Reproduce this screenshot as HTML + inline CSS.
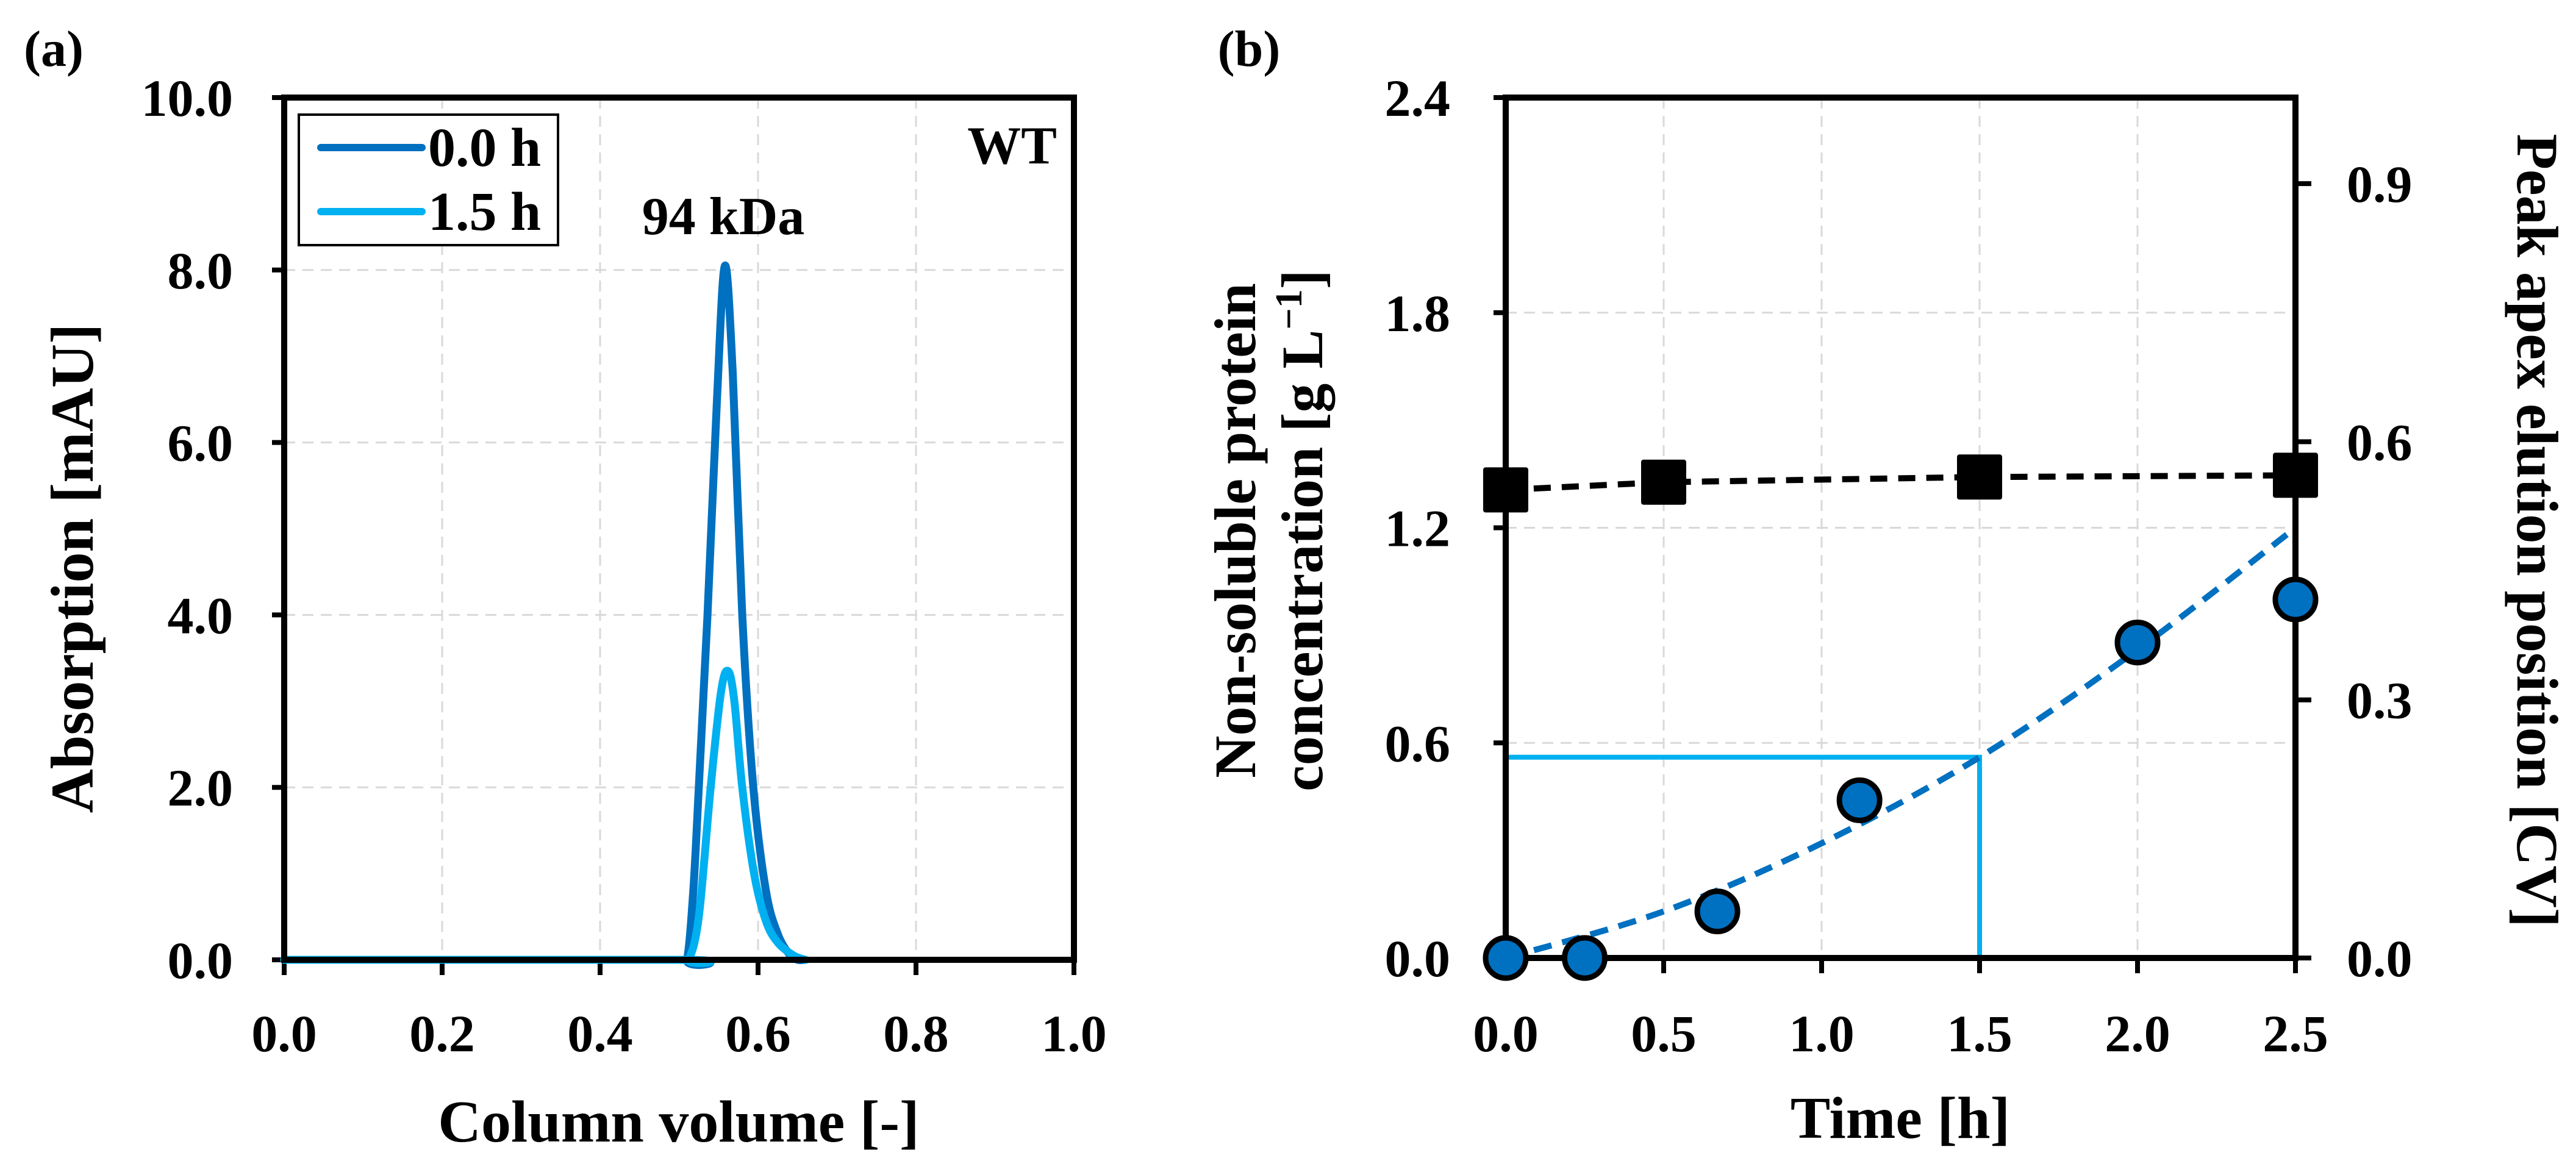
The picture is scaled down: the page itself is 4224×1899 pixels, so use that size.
<!DOCTYPE html>
<html><head><meta charset="utf-8"><style>
html,body{margin:0;padding:0;background:#fff}
svg{display:block}
text{font-family:"Liberation Serif",serif;font-weight:bold;fill:#000}
</style></head><body>
<svg id="s" width="4224" height="1899" viewBox="0 0 4224 1899" xmlns="http://www.w3.org/2000/svg">
<text x="88" y="108" font-size="84" text-anchor="middle">(a)</text>
<text x="2048" y="108" font-size="84" text-anchor="middle">(b)</text>
<g id="ga"></g>
<g id="gb"></g>
</svg>
<script>
// ---- Panel (a) data ----
const aXTicks = [0.0, 0.2, 0.4, 0.6, 0.8, 1.0];
const aYTicks = [0, 2, 4, 6, 8, 10];
const s0x = [0, 0.50, 0.51, 0.518, 0.525, 0.536, 0.548, 0.558, 0.568, 0.580, 0.594, 0.610, 0.625, 0.640, 0.650, 0.66];
const s0y = [0, 0, 0.0, 0.8, 2.0, 4.0, 6.5, 8.05, 6.8, 4.0, 2.0, 0.8, 0.3, 0.06, 0, 0];
const s1x = [0, 0.50, 0.512, 0.525, 0.540, 0.553, 0.562, 0.570, 0.580, 0.595, 0.610, 0.625, 0.645, 0.660];
const s1y = [0, 0, 0, 0.5, 2.0, 3.1, 3.35, 3.0, 2.0, 1.0, 0.45, 0.2, 0.05, 0];
// ---- Panel (b) data ----
const bXTicks = [0.0, 0.5, 1.0, 1.5, 2.0, 2.5];
const bYTicks = [0.0, 0.6, 1.2, 1.8, 2.4];
const bY2Ticks = [0.0, 0.3, 0.6, 0.9];
const concT = [0, 0.25, 0.67, 1.12, 2.0, 2.5];
const concV = [0, 0, 0.13, 0.44, 0.88, 1.0];
const fitT = [0, 0.5, 1.0, 1.5, 2.0, 2.5];
const fitV = [0, 0.13, 0.32, 0.56, 0.86, 1.2];
const apexT = [0, 0.5, 1.5, 2.5];
const apexV = [0.544, 0.553, 0.559, 0.561];
const refT = 1.5, refV = 0.56;

const NS = "http://www.w3.org/2000/svg";
function mk(parent, tag, attrs, txt){const e=document.createElementNS(NS,tag);for(const k in attrs)e.setAttribute(k,attrs[k]);if(txt!==undefined)e.textContent=txt;parent.appendChild(e);return e;}
function smooth(pts){let d="M"+pts[0][0]+","+pts[0][1];for(let i=0;i<pts.length-1;i++){const p0=pts[i-1]||pts[i],p1=pts[i],p2=pts[i+1],p3=pts[i+2]||p2;const c1=[p1[0]+(p2[0]-p0[0])/6,p1[1]+(p2[1]-p0[1])/6],c2=[p2[0]-(p3[0]-p1[0])/6,p2[1]-(p3[1]-p1[1])/6];d+=" C"+c1+" "+c2+" "+p2;}return d;}
const TF=86, TOFF=30;

// ---- Panel (a) ----
const ga=document.getElementById('ga');
const aL=466,aR=1761,aT=160,aB=1574;
const ax=v=>aL+(v-0)/(1-0)*(aR-aL), ay=v=>aB-(v/10)*(aB-aT);
aXTicks.forEach((t,i)=>{ if(i>0&&i<aXTicks.length-1){const g=mk(ga,'line',{x1:ax(t),x2:ax(t),y1:aT,y2:aB,stroke:'#d9d9d9','stroke-width':3,'stroke-dasharray':'18 12'});}
 const tk=mk(ga,'line',{x1:ax(t),x2:ax(t),y1:aB,y2:aB+25,stroke:'#000','stroke-width':8});
 const l=mk(ga,'text',{x:ax(t),y:1724,'font-size':TF,'text-anchor':'middle'},t.toFixed(1));});
aYTicks.forEach((t,i)=>{ if(i>0&&i<aYTicks.length-1){const g=mk(ga,'line',{x1:aL,x2:aR,y1:ay(t),y2:ay(t),stroke:'#d9d9d9','stroke-width':3,'stroke-dasharray':'18 12'});}
 const tk=mk(ga,'line',{x1:aL-20,x2:aL,y1:ay(t),y2:ay(t),stroke:'#000','stroke-width':8});
 const l=mk(ga,'text',{x:382,y:ay(t)+TOFF,'font-size':TF,'text-anchor':'end'},t.toFixed(1));});
[[s0x,s0y,'#0070c0','series-0h'],[s1x,s1y,'#00b0f0','series-1-5h']].forEach(s=>{
 const pts=s[0].map((x,i)=>[ax(x),ay(s[1][i])]);
 const p=mk(ga,'path',{d:smooth(pts),fill:'none',stroke:s[2],'stroke-width':13,'stroke-linejoin':'round','stroke-linecap':'round'});
 });
const fa=mk(ga,'rect',{x:aL,y:aT,width:aR-aL,height:aB-aT,fill:'none',stroke:'#000','stroke-width':10});

const lb=mk(ga,'rect',{x:490,y:188,width:425,height:214,fill:'#fff',stroke:'#000','stroke-width':4});

[[242,'#0070c0','0.0 h'],[347,'#00b0f0','1.5 h']].forEach(e=>{
 const ln=mk(ga,'line',{x1:526,x2:692,y1:e[0],y2:e[0],stroke:e[1],'stroke-width':12,'stroke-linecap':'round'});
 const t=mk(ga,'text',{x:702,y:e[0]+30,'font-size':90},e[2]);});
let t;
t=mk(ga,'text',{x:1733,y:268,'font-size':88,'text-anchor':'end'},'WT');
t=mk(ga,'text',{x:1186,y:384,'font-size':88,'text-anchor':'middle'},'94 kDa');
t=mk(ga,'text',{x:1113,y:1872,'font-size':98,'text-anchor':'middle'},'Column volume  [-]');
t=mk(ga,'text',{x:0,y:0,'font-size':100,'text-anchor':'middle',transform:'translate(152,932) rotate(-90)'},'Absorption [mAU]');

// ---- Panel (b) ----
const gb=document.getElementById('gb');
const bL=2469,bR=3764,bT=160,bB=1571;
const bx=v=>bL+v/2.5*(bR-bL), by=v=>bB-v/2.4*(bB-bT), by2=v=>bB-v/1.0*(bB-bT);
bXTicks.forEach((v,i)=>{ if(i>0&&i<bXTicks.length-1){const g=mk(gb,'line',{x1:bx(v),x2:bx(v),y1:bT,y2:bB,stroke:'#d9d9d9','stroke-width':3,'stroke-dasharray':'18 12'});}
 const tk=mk(gb,'line',{x1:bx(v),x2:bx(v),y1:bB,y2:bB+25,stroke:'#000','stroke-width':8});
 const l=mk(gb,'text',{x:bx(v),y:1724,'font-size':TF,'text-anchor':'middle'},v.toFixed(1));});
bYTicks.forEach((v,i)=>{ if(i>0&&i<bYTicks.length-1){const g=mk(gb,'line',{x1:bL,x2:bR,y1:by(v),y2:by(v),stroke:'#d9d9d9','stroke-width':3,'stroke-dasharray':'18 12'});}
 const tk=mk(gb,'line',{x1:bL-20,x2:bL,y1:by(v),y2:by(v),stroke:'#000','stroke-width':8});
 const l=mk(gb,'text',{x:2378,y:by(v)+TOFF,'font-size':TF,'text-anchor':'end'},v.toFixed(1));});
bY2Ticks.forEach(v=>{
 const tk=mk(gb,'line',{x1:bR,x2:bR+26,y1:by2(v),y2:by2(v),stroke:'#000','stroke-width':8});
 const l=mk(gb,'text',{x:3848,y:by2(v)+TOFF,'font-size':TF},v.toFixed(1));});
let r=mk(gb,'polyline',{points:`${bx(0)},${by(refV)} ${bx(refT)},${by(refV)} ${bx(refT)},${by(0)}`,fill:'none',stroke:'#00b0f0','stroke-width':8});

let fp=mk(gb,'path',{d:smooth(fitT.map((x,i)=>[bx(x),by(fitV[i])])),fill:'none',stroke:'#0070c0','stroke-width':10,'stroke-dasharray':'30 18'});

let apl=mk(gb,'polyline',{points:apexT.map((x,i)=>bx(x)+','+by2(apexV[i])).join(' '),fill:'none',stroke:'#000','stroke-width':10,'stroke-dasharray':'28 18'});

const fb=mk(gb,'rect',{x:bL,y:bT,width:bR-bL,height:bB-bT,fill:'none',stroke:'#000','stroke-width':10});

apexT.forEach((x,i)=>{const q=mk(gb,'rect',{x:bx(x)-37,y:by2(apexV[i])-37,width:74,height:74,rx:4,fill:'#000'});
 });
concT.forEach((x,i)=>{const c=mk(gb,'circle',{cx:bx(x),cy:by(concV[i]),r:33,fill:'#0070c0',stroke:'#000','stroke-width':9});
 });
t=mk(gb,'text',{x:3116,y:1866,'font-size':98,'text-anchor':'middle'},'Time [h]');
t=mk(gb,'text',{x:0,y:0,'font-size':96,'text-anchor':'middle',transform:'translate(2058,870) rotate(-90)'},'Non-soluble protein');
t=mk(gb,'text',{x:0,y:0,'font-size':96,'text-anchor':'middle',transform:'translate(2168,870) rotate(-90)'});
t.textContent='concentration [g L';mk(t,'tspan',{'font-size':62,dy:-34},'−1');mk(t,'tspan',{dy:34},']');
t=mk(gb,'text',{x:0,y:0,'font-size':96,'text-anchor':'middle',transform:'translate(4128,870) rotate(90)'},'Peak apex elution position [CV]');
</script>
</body></html>
